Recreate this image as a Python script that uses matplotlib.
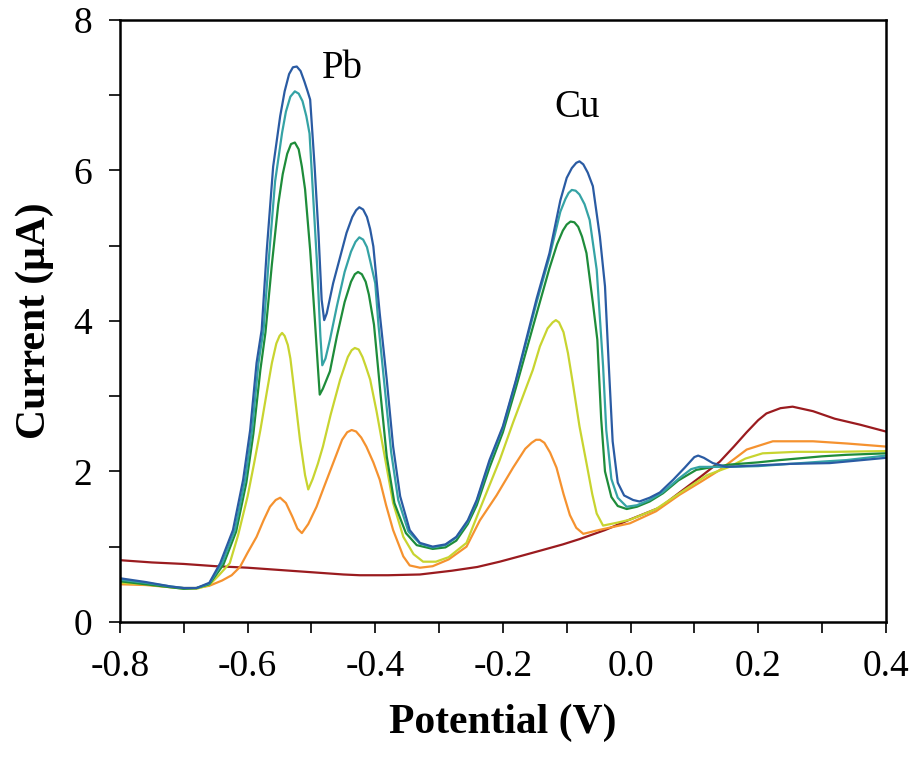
import matplotlib
matplotlib.use("Agg")
import matplotlib.pyplot as plt
from matplotlib.ticker import MultipleLocator

plt.rcParams['font.family'] = ['Liberation Serif', 'DejaVu Serif']

# potential (V) / current (uA), one pair of lists per trace
blank_v = [-0.80, -0.75, -0.70, -0.65, -0.60, -0.55, -0.50, -0.45, -0.424, -0.38, -0.33, -0.28, -0.24,
           -0.205, -0.17, -0.14, -0.106, -0.08, -0.04, -0.001, 0.046, 0.077, 0.110, 0.140, 0.162, 0.182,
           0.200, 0.213, 0.235, 0.254, 0.286, 0.320, 0.360, 0.400]
blank_i = [0.82, 0.79, 0.77, 0.74, 0.72, 0.69, 0.66, 0.63, 0.62, 0.62, 0.63, 0.68, 0.73,
           0.80, 0.88, 0.95, 1.03, 1.10, 1.22, 1.36, 1.52, 1.72, 1.93, 2.13, 2.33, 2.52,
           2.68, 2.77, 2.84, 2.86, 2.80, 2.70, 2.62, 2.53]

orange_v = [-0.80, -0.76, -0.72, -0.70, -0.68, -0.66, -0.640, -0.625, -0.612, -0.600, -0.586, -0.575,
            -0.565, -0.556, -0.549, -0.540, -0.530, -0.522, -0.515, -0.505, -0.492, -0.480, -0.466,
            -0.452, -0.444, -0.437, -0.430, -0.422, -0.414, -0.403, -0.393, -0.383, -0.372, -0.356,
            -0.346, -0.330, -0.310, -0.285, -0.257, -0.236, -0.210, -0.184, -0.165, -0.155, -0.148,
            -0.142, -0.135, -0.126, -0.116, -0.105, -0.095, -0.085, -0.074, -0.050, -0.001, 0.040,
            0.077, 0.110, 0.140, 0.182, 0.223, 0.286, 0.340, 0.400]
orange_i = [0.50, 0.49, 0.46, 0.45, 0.45, 0.48, 0.55, 0.62, 0.73, 0.92, 1.13, 1.35,
            1.53, 1.62, 1.65, 1.58, 1.40, 1.24, 1.18, 1.30, 1.53, 1.80, 2.11,
            2.42, 2.52, 2.55, 2.53, 2.45, 2.33, 2.12, 1.89, 1.55, 1.22, 0.87,
            0.75, 0.72, 0.74, 0.83, 1.00, 1.35, 1.68, 2.05, 2.30, 2.38, 2.42,
            2.42, 2.38, 2.25, 2.05, 1.70, 1.42, 1.25, 1.17, 1.22, 1.31, 1.47,
            1.69, 1.86, 2.02, 2.29, 2.40, 2.40, 2.37, 2.33]

yellow_v = [-0.80, -0.76, -0.72, -0.70, -0.68, -0.66, -0.645, -0.628, -0.615, -0.600, -0.590, -0.580,
            -0.570, -0.562, -0.555, -0.550, -0.546, -0.542, -0.537, -0.533, -0.529, -0.518, -0.510,
            -0.505, -0.498, -0.490, -0.482, -0.470, -0.455, -0.443, -0.437, -0.432, -0.426, -0.420,
            -0.415, -0.408, -0.398, -0.388, -0.372, -0.356, -0.340, -0.325, -0.305, -0.285, -0.257,
            -0.236, -0.205, -0.184, -0.153, -0.142, -0.130, -0.122, -0.117, -0.112, -0.105, -0.098,
            -0.090, -0.080, -0.069, -0.060, -0.053, -0.043, -0.020, 0.000, 0.040, 0.077, 0.120, 0.155,
            0.180, 0.207, 0.260, 0.320, 0.400]
yellow_i = [0.52, 0.50, 0.46, 0.44, 0.44, 0.49, 0.62, 0.78, 1.15, 1.67, 2.10, 2.55,
            3.05, 3.44, 3.70, 3.80, 3.84, 3.80, 3.68, 3.50, 3.22, 2.42, 1.95,
            1.76, 1.90, 2.10, 2.33, 2.75, 3.22, 3.52, 3.61, 3.64, 3.62, 3.52,
            3.40, 3.22, 2.80, 2.33, 1.58, 1.13, 0.90, 0.80, 0.80, 0.86, 1.05,
            1.50, 2.15, 2.65, 3.35, 3.66, 3.90, 3.98, 4.01, 3.98, 3.85, 3.57,
            3.15, 2.60, 2.11, 1.70, 1.44, 1.28, 1.32, 1.36, 1.50, 1.71, 1.95, 2.06,
            2.17, 2.24, 2.26, 2.26, 2.27]

green_v = [-0.80, -0.76, -0.72, -0.70, -0.68, -0.66, -0.638, -0.618, -0.602, -0.591, -0.580, -0.572,
           -0.562, -0.552, -0.545, -0.538, -0.532, -0.526, -0.520, -0.515, -0.510, -0.502, -0.495,
           -0.490, -0.487, -0.482, -0.471, -0.460, -0.448, -0.438, -0.432, -0.427, -0.421, -0.415,
           -0.410, -0.402, -0.392, -0.382, -0.370, -0.352, -0.335, -0.310, -0.290, -0.273, -0.255,
           -0.241, -0.221, -0.200, -0.180, -0.147, -0.127, -0.115, -0.106, -0.100, -0.094, -0.088,
           -0.082, -0.076, -0.069, -0.059, -0.052, -0.046, -0.040, -0.030, -0.020, -0.006, 0.010,
           0.030, 0.051, 0.075, 0.103, 0.130, 0.155, 0.200, 0.234, 0.300, 0.338, 0.400]
green_i = [0.54, 0.50, 0.46, 0.44, 0.45, 0.50, 0.76, 1.20, 1.85, 2.50, 3.35, 3.85,
           4.75, 5.55, 5.95, 6.22, 6.35, 6.37, 6.28, 6.05, 5.75, 4.94, 4.06,
           3.40, 3.02, 3.10, 3.33, 3.80, 4.25, 4.52, 4.62, 4.65, 4.62, 4.52,
           4.35, 3.95, 3.05, 2.20, 1.58, 1.18, 1.02, 0.97, 0.99, 1.08, 1.30,
           1.55, 2.05, 2.52, 3.10, 4.10, 4.70, 5.02, 5.20, 5.28, 5.32, 5.31,
           5.25, 5.12, 4.90, 4.24, 3.75, 2.70, 2.00, 1.66, 1.54, 1.50, 1.53,
           1.60, 1.71, 1.88, 2.02, 2.06, 2.09, 2.12, 2.15, 2.20, 2.22, 2.24]

teal_v = [-0.80, -0.76, -0.72, -0.70, -0.68, -0.66, -0.640, -0.620, -0.604, -0.593, -0.583, -0.575,
          -0.567, -0.557, -0.546, -0.540, -0.533, -0.526, -0.520, -0.514, -0.508, -0.503, -0.497,
          -0.491, -0.486, -0.483, -0.478, -0.471, -0.460, -0.448, -0.438, -0.431, -0.425, -0.419,
          -0.413, -0.408, -0.400, -0.395, -0.385, -0.375, -0.364, -0.348, -0.330, -0.310, -0.290,
          -0.273, -0.255, -0.241, -0.221, -0.200, -0.180, -0.147, -0.127, -0.110, -0.102, -0.097,
          -0.092, -0.086, -0.080, -0.072, -0.064, -0.053, -0.043, -0.038, -0.030, -0.020, -0.006,
          0.010, 0.030, 0.050, 0.075, 0.095, 0.108, 0.130, 0.155, 0.200, 0.234, 0.300, 0.338, 0.400]
teal_i = [0.56, 0.52, 0.47, 0.45, 0.45, 0.51, 0.78, 1.22, 1.89, 2.55, 3.44, 3.88,
          4.80, 5.85, 6.50, 6.78, 6.98, 7.05, 7.02, 6.92, 6.72, 6.49, 5.61,
          4.72, 3.80, 3.41, 3.50, 3.75, 4.20, 4.65, 4.92, 5.05, 5.11, 5.08,
          4.98, 4.80, 4.50, 3.95, 3.10, 2.25, 1.62, 1.20, 1.04, 0.99, 1.02,
          1.12, 1.33, 1.60, 2.12, 2.58, 3.18, 4.25, 4.85, 5.45, 5.62, 5.70,
          5.74, 5.73, 5.68, 5.55, 5.34, 4.68, 3.40, 2.55, 1.90, 1.65, 1.53,
          1.55, 1.62, 1.72, 1.90, 2.03, 2.06, 2.06, 2.06, 2.07, 2.09, 2.13, 2.15, 2.21]

blue_v = [-0.80, -0.76, -0.72, -0.70, -0.68, -0.66, -0.643, -0.623, -0.607, -0.596, -0.586, -0.578,
          -0.570, -0.560, -0.549, -0.542, -0.535, -0.529, -0.523, -0.517, -0.511, -0.506, -0.502,
          -0.495, -0.489, -0.484, -0.480, -0.476, -0.466, -0.455, -0.445, -0.436, -0.430, -0.425,
          -0.419, -0.413, -0.408, -0.403, -0.393, -0.382, -0.372, -0.361, -0.346, -0.330, -0.310,
          -0.290, -0.273, -0.255, -0.241, -0.221, -0.200, -0.180, -0.147, -0.127, -0.110, -0.100,
          -0.092, -0.085, -0.080, -0.074, -0.067, -0.059, -0.048, -0.040, -0.034, -0.028, -0.020,
          -0.010, 0.004, 0.014, 0.030, 0.046, 0.067, 0.085, 0.100, 0.106, 0.115, 0.129, 0.150,
          0.200, 0.250, 0.312, 0.350, 0.400]
blue_i = [0.58, 0.53, 0.47, 0.45, 0.45, 0.52, 0.78, 1.22, 1.89, 2.55, 3.44, 3.88,
          4.94, 6.05, 6.72, 7.05, 7.28, 7.37, 7.38, 7.32, 7.18, 7.05, 6.94,
          6.05, 5.17, 4.28, 4.01, 4.10, 4.50, 4.85, 5.17, 5.38, 5.47, 5.51,
          5.48, 5.38, 5.22, 4.99, 4.10, 3.22, 2.33, 1.67, 1.22, 1.05, 1.00,
          1.03, 1.13, 1.35, 1.62, 2.15, 2.60, 3.20, 4.30, 4.90, 5.60, 5.90,
          6.03, 6.10, 6.12, 6.08, 5.97, 5.79, 5.12, 4.46, 3.40, 2.40, 1.85,
          1.68, 1.62, 1.60, 1.65, 1.72, 1.89, 2.05, 2.19, 2.21, 2.18, 2.11, 2.06,
          2.08, 2.10, 2.11, 2.14, 2.18]

fig = plt.figure(figsize=(9.16, 7.64), dpi=100)
ax = fig.add_axes([0.131, 0.186, 0.836, 0.788])

ax.plot(blank_v, blank_i, color='#9a1b1f', lw=1.6)
ax.plot(orange_v, orange_i, color='#f5922f', lw=1.6)
ax.plot(yellow_v, yellow_i, color='#c8d430', lw=1.6)
ax.plot(green_v, green_i, color='#1e8c3a', lw=1.6)
ax.plot(teal_v, teal_i, color='#35a3a5', lw=1.6)
ax.plot(blue_v, blue_i, color='#2a5ba3', lw=1.6)

ax.text(-0.452, 7.36, 'Pb', fontsize=28, ha='center', va='center')
ax.text(-0.083, 6.83, 'Cu', fontsize=28, ha='center', va='center')

ax.set_xlim(-0.8, 0.4)
ax.set_ylim(0, 8)
ax.xaxis.set_major_locator(MultipleLocator(0.2))
ax.xaxis.set_minor_locator(MultipleLocator(0.1))
ax.yaxis.set_major_locator(MultipleLocator(2))
ax.yaxis.set_minor_locator(MultipleLocator(1))
ax.set_xticklabels([f'{t:.1f}' for t in ax.get_xticks()])
ax.tick_params(which='both', direction='out', length=8, width=1.2, labelsize=27)
ax.tick_params(axis='x', pad=12)
ax.tick_params(axis='y', pad=12)
for s in ax.spines.values():
    s.set_linewidth(1.8)

ax.set_xlabel('Potential (V)', fontsize=30, fontweight='bold', labelpad=14)
ax.set_ylabel('Current (μA)', fontsize=30, fontweight='bold', labelpad=14)

fig.savefig('out.png', dpi=100)
